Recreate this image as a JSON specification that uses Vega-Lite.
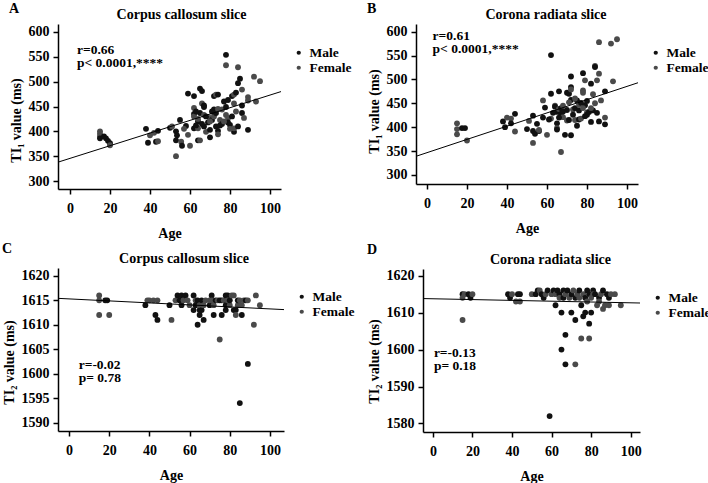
{
  "$schema": "https://vega.github.io/schema/vega-lite/v6.json",
  "padding": {"left": 2, "top": 2, "right": 0, "bottom": 0},
  "background": "white",
  "datasets": {
    "A": [
      {"age":15,"t":400,"sex":"Female"},{"age":15,"t":395,"sex":"Female"},{"age":15,"t":390,"sex":"Female"},{"age":15,"t":386,"sex":"Male"},
      {"age":17,"t":390,"sex":"Male"},{"age":18,"t":386,"sex":"Male"},{"age":19,"t":381,"sex":"Male"},{"age":20,"t":376,"sex":"Male"},{"age":20,"t":372,"sex":"Female"},
      {"age":38,"t":405,"sex":"Male"},{"age":39,"t":377,"sex":"Male"},{"age":40,"t":392,"sex":"Female"},{"age":42,"t":397,"sex":"Female"},{"age":44,"t":401,"sex":"Male"},{"age":43,"t":379,"sex":"Male"},{"age":44,"t":380,"sex":"Female"},
      {"age":50,"t":407,"sex":"Male"},{"age":51,"t":410,"sex":"Female"},{"age":53,"t":400,"sex":"Male"},{"age":53.5,"t":392,"sex":"Male"},{"age":53,"t":382,"sex":"Male"},{"age":53,"t":350,"sex":"Female"},
      {"age":55,"t":423,"sex":"Male"},{"age":55.6,"t":379,"sex":"Female"},{"age":56,"t":371,"sex":"Male"},{"age":59,"t":476,"sex":"Male"},{"age":58,"t":411,"sex":"Male"},{"age":59,"t":393,"sex":"Female"},{"age":60,"t":371,"sex":"Female"},
      {"age":62,"t":471,"sex":"Male"},{"age":62,"t":447,"sex":"Female"},{"age":62,"t":435,"sex":"Male"},{"age":62,"t":430,"sex":"Female"},{"age":62,"t":406,"sex":"Male"},{"age":64,"t":420,"sex":"Male"},{"age":64,"t":406,"sex":"Female"},{"age":64,"t":382,"sex":"Male"},{"age":65,"t":382,"sex":"Female"},
      {"age":65,"t":486,"sex":"Male"},{"age":66,"t":481,"sex":"Male"},{"age":66,"t":456,"sex":"Female"},{"age":67,"t":452,"sex":"Male"},{"age":67,"t":449,"sex":"Male"},{"age":65,"t":437,"sex":"Male"},{"age":67,"t":433,"sex":"Female"},{"age":67,"t":410,"sex":"Male"},
      {"age":68,"t":399,"sex":"Female"},{"age":69,"t":418,"sex":"Male"},{"age":70,"t":427,"sex":"Female"},{"age":70,"t":403,"sex":"Male"},{"age":70,"t":388,"sex":"Male"},{"age":71,"t":423,"sex":"Male"},{"age":72,"t":471,"sex":"Male"},{"age":73,"t":474,"sex":"Female"},
      {"age":74,"t":474,"sex":"Male"},{"age":72,"t":444,"sex":"Male"},{"age":72,"t":430,"sex":"Female"},{"age":73,"t":437,"sex":"Male"},{"age":73,"t":410,"sex":"Male"},{"age":74,"t":401,"sex":"Male"},{"age":74,"t":394,"sex":"Female"},{"age":75,"t":423,"sex":"Female"},
      {"age":76,"t":415,"sex":"Male"},{"age":76,"t":444,"sex":"Female"},{"age":77,"t":460,"sex":"Male"},{"age":78,"t":554,"sex":"Male"},{"age":78,"t":533,"sex":"Female"},{"age":78,"t":449,"sex":"Male"},{"age":78,"t":433,"sex":"Female"},{"age":79,"t":463,"sex":"Male"},
      {"age":79,"t":427,"sex":"Female"},{"age":79,"t":418,"sex":"Male"},{"age":80,"t":413,"sex":"Male"},{"age":81,"t":471,"sex":"Male"},{"age":82,"t":456,"sex":"Female"},{"age":82,"t":474,"sex":"Female"},{"age":83,"t":478,"sex":"Male"},{"age":82,"t":399,"sex":"Male"},
      {"age":82,"t":406,"sex":"Female"},{"age":84,"t":529,"sex":"Female"},{"age":84,"t":497,"sex":"Male"},{"age":85,"t":506,"sex":"Male"},{"age":86,"t":484,"sex":"Female"},{"age":86,"t":452,"sex":"Male"},{"age":86,"t":437,"sex":"Male"},{"age":87,"t":427,"sex":"Female"},
      {"age":89,"t":469,"sex":"Female"},{"age":89,"t":462,"sex":"Female"},{"age":89,"t":403,"sex":"Male"},{"age":92,"t":510,"sex":"Female"},{"age":95,"t":501,"sex":"Female"},{"age":93,"t":460,"sex":"Female"},
      {"age":63,"t":440,"sex":"Male"},{"age":64,"t":425,"sex":"Female"},{"age":66,"t":415,"sex":"Male"},{"age":68,"t":430,"sex":"Male"},{"age":70,"t":420,"sex":"Female"},{"age":71,"t":440,"sex":"Male"},{"age":74,"t":445,"sex":"Female"},{"age":75,"t":412,"sex":"Male"},
      {"age":77,"t":420,"sex":"Female"},{"age":80,"t":405,"sex":"Female"},{"age":81,"t":430,"sex":"Male"},{"age":83,"t":440,"sex":"Female"},{"age":84,"t":410,"sex":"Male"},{"age":63,"t":412,"sex":"Male"},{"age":57,"t":405,"sex":"Female"}
    ],
    "B": [
      {"age":15,"t":408,"sex":"Female"},{"age":15,"t":396,"sex":"Female"},{"age":15,"t":385,"sex":"Female"},{"age":17.5,"t":398,"sex":"Male"},{"age":19,"t":398,"sex":"Male"},{"age":20,"t":372,"sex":"Female"},
      {"age":38,"t":412,"sex":"Male"},{"age":39,"t":400,"sex":"Male"},{"age":40,"t":420,"sex":"Female"},{"age":42,"t":418,"sex":"Female"},{"age":42,"t":408,"sex":"Male"},{"age":44,"t":428,"sex":"Male"},{"age":44,"t":391,"sex":"Female"},
      {"age":50,"t":396,"sex":"Male"},{"age":51,"t":413,"sex":"Female"},{"age":53,"t":424,"sex":"Male"},{"age":53,"t":367,"sex":"Female"},{"age":53,"t":392,"sex":"Male"},{"age":54,"t":386,"sex":"Male"},{"age":55,"t":407,"sex":"Male"},{"age":56,"t":392,"sex":"Male"},
      {"age":56,"t":394,"sex":"Female"},{"age":58,"t":456,"sex":"Female"},{"age":58,"t":420,"sex":"Male"},{"age":60,"t":384,"sex":"Female"},{"age":59,"t":441,"sex":"Male"},{"age":62,"t":551,"sex":"Male"},{"age":62,"t":470,"sex":"Male"},{"age":62,"t":418,"sex":"Female"},
      {"age":61,"t":416,"sex":"Male"},{"age":64,"t":445,"sex":"Female"},{"age":64,"t":443,"sex":"Male"},{"age":65,"t":432,"sex":"Male"},{"age":65,"t":408,"sex":"Male"},{"age":65,"t":398,"sex":"Female"},{"age":65,"t":395,"sex":"Male"},{"age":66,"t":475,"sex":"Male"},
      {"age":66,"t":438,"sex":"Female"},{"age":67,"t":440,"sex":"Male"},{"age":67,"t":348,"sex":"Female"},{"age":67,"t":428,"sex":"Male"},{"age":68,"t":421,"sex":"Female"},{"age":68,"t":433,"sex":"Male"},{"age":69,"t":384,"sex":"Male"},{"age":70,"t":472,"sex":"Male"},
      {"age":70,"t":414,"sex":"Female"},{"age":71,"t":470,"sex":"Male"},{"age":71,"t":415,"sex":"Male"},{"age":72,"t":506,"sex":"Male"},{"age":72,"t":484,"sex":"Male"},{"age":72,"t":479,"sex":"Female"},{"age":72,"t":457,"sex":"Male"},{"age":72,"t":383,"sex":"Male"},
      {"age":73,"t":437,"sex":"Female"},{"age":73,"t":426,"sex":"Male"},{"age":74,"t":440,"sex":"Male"},{"age":74,"t":415,"sex":"Female"},{"age":75,"t":403,"sex":"Male"},{"age":75,"t":456,"sex":"Male"},{"age":76,"t":447,"sex":"Female"},{"age":76,"t":416,"sex":"Male"},
      {"age":77,"t":451,"sex":"Male"},{"age":77,"t":418,"sex":"Female"},{"age":78,"t":513,"sex":"Male"},{"age":78,"t":477,"sex":"Female"},{"age":78,"t":472,"sex":"Female"},{"age":79,"t":446,"sex":"Male"},{"age":79,"t":498,"sex":"Female"},{"age":79,"t":423,"sex":"Male"},
      {"age":80,"t":431,"sex":"Female"},{"age":80,"t":426,"sex":"Male"},{"age":81,"t":432,"sex":"Male"},{"age":82,"t":491,"sex":"Male"},{"age":82,"t":411,"sex":"Male"},{"age":83,"t":469,"sex":"Female"},{"age":83,"t":435,"sex":"Male"},{"age":84,"t":528,"sex":"Female"},
      {"age":84,"t":526,"sex":"Male"},{"age":85,"t":498,"sex":"Female"},{"age":85,"t":430,"sex":"Male"},{"age":86,"t":578,"sex":"Female"},{"age":86,"t":512,"sex":"Female"},{"age":86,"t":412,"sex":"Male"},{"age":87,"t":456,"sex":"Female"},{"age":89,"t":475,"sex":"Male"},
      {"age":89,"t":420,"sex":"Female"},{"age":89,"t":406,"sex":"Male"},{"age":92,"t":575,"sex":"Female"},{"age":93,"t":496,"sex":"Female"},{"age":95,"t":584,"sex":"Female"},
      {"age":63,"t":430,"sex":"Male"},{"age":66,"t":420,"sex":"Male"},{"age":68,"t":445,"sex":"Female"},{"age":70,"t":436,"sex":"Male"},{"age":71,"t":452,"sex":"Female"},{"age":74,"t":460,"sex":"Female"},{"age":76,"t":435,"sex":"Male"},{"age":78,"t":440,"sex":"Female"},
      {"age":80,"t":455,"sex":"Male"},{"age":82,"t":440,"sex":"Female"},{"age":84,"t":450,"sex":"Female"}
    ],
    "C": [
      {"age":15,"t":1616,"sex":"Female"},{"age":15,"t":1615,"sex":"Female"},{"age":15,"t":1612,"sex":"Female"},{"age":18,"t":1615,"sex":"Male"},{"age":19,"t":1615,"sex":"Male"},{"age":20,"t":1612,"sex":"Female"},
      {"age":38,"t":1614,"sex":"Male"},{"age":39,"t":1615,"sex":"Female"},{"age":40,"t":1615,"sex":"Female"},{"age":42,"t":1615,"sex":"Female"},{"age":43,"t":1612,"sex":"Male"},{"age":44,"t":1611,"sex":"Male"},{"age":44,"t":1615,"sex":"Female"},
      {"age":50,"t":1614,"sex":"Male"},{"age":51,"t":1611,"sex":"Female"},{"age":53,"t":1615,"sex":"Female"},{"age":54,"t":1616,"sex":"Male"},{"age":55,"t":1615,"sex":"Male"},{"age":56,"t":1616,"sex":"Male"},{"age":56,"t":1614,"sex":"Male"},{"age":57,"t":1615,"sex":"Female"},
      {"age":58,"t":1616,"sex":"Male"},{"age":59,"t":1615,"sex":"Female"},{"age":60,"t":1614,"sex":"Female"},{"age":62,"t":1616,"sex":"Male"},{"age":62,"t":1613,"sex":"Male"},{"age":63,"t":1615,"sex":"Female"},{"age":63,"t":1614,"sex":"Male"},{"age":64,"t":1610,"sex":"Male"},
      {"age":64,"t":1615,"sex":"Male"},{"age":65,"t":1613,"sex":"Male"},{"age":65,"t":1612,"sex":"Male"},{"age":65,"t":1614,"sex":"Female"},{"age":66,"t":1613,"sex":"Male"},{"age":66,"t":1615,"sex":"Male"},{"age":67,"t":1611,"sex":"Male"},{"age":67,"t":1614,"sex":"Female"},
      {"age":68,"t":1615,"sex":"Female"},{"age":70,"t":1614,"sex":"Male"},{"age":70,"t":1615,"sex":"Female"},{"age":71,"t":1616,"sex":"Male"},{"age":71,"t":1615,"sex":"Female"},{"age":72,"t":1612,"sex":"Male"},{"age":72,"t":1614,"sex":"Female"},{"age":73,"t":1615,"sex":"Male"},
      {"age":74,"t":1615,"sex":"Female"},{"age":75,"t":1615,"sex":"Male"},{"age":75,"t":1607,"sex":"Female"},{"age":76,"t":1612,"sex":"Male"},{"age":76,"t":1615,"sex":"Male"},{"age":77,"t":1615,"sex":"Female"},{"age":78,"t":1616,"sex":"Male"},{"age":78,"t":1614,"sex":"Male"},
      {"age":78,"t":1613,"sex":"Male"},{"age":79,"t":1616,"sex":"Male"},{"age":79,"t":1615,"sex":"Female"},{"age":80,"t":1614,"sex":"Female"},{"age":80,"t":1615,"sex":"Male"},{"age":81,"t":1616,"sex":"Female"},{"age":82,"t":1613,"sex":"Male"},{"age":82,"t":1616,"sex":"Female"},
      {"age":83,"t":1613,"sex":"Male"},{"age":83,"t":1612,"sex":"Female"},{"age":84,"t":1614,"sex":"Female"},{"age":84,"t":1615,"sex":"Male"},{"age":85,"t":1615,"sex":"Female"},{"age":85,"t":1594,"sex":"Male"},{"age":86,"t":1612,"sex":"Male"},{"age":86,"t":1614,"sex":"Female"},
      {"age":87,"t":1615,"sex":"Female"},{"age":88,"t":1615,"sex":"Male"},{"age":89,"t":1602,"sex":"Male"},{"age":89,"t":1615,"sex":"Female"},{"age":92,"t":1610,"sex":"Female"},{"age":93,"t":1616,"sex":"Female"},{"age":95,"t":1614,"sex":"Female"}
    ],
    "D": [
      {"age":15,"t":1615,"sex":"Male"},{"age":15,"t":1614,"sex":"Female"},{"age":15,"t":1608,"sex":"Female"},{"age":16,"t":1615,"sex":"Female"},{"age":18,"t":1615,"sex":"Male"},{"age":19,"t":1614,"sex":"Male"},{"age":20,"t":1615,"sex":"Female"},
      {"age":38,"t":1615,"sex":"Male"},{"age":39,"t":1614,"sex":"Male"},{"age":40,"t":1615,"sex":"Female"},{"age":42,"t":1613,"sex":"Female"},{"age":43,"t":1615,"sex":"Male"},{"age":44,"t":1613,"sex":"Female"},{"age":44,"t":1615,"sex":"Male"},
      {"age":50,"t":1615,"sex":"Female"},{"age":52,"t":1615,"sex":"Male"},{"age":53,"t":1616,"sex":"Male"},{"age":54,"t":1616,"sex":"Female"},{"age":55,"t":1615,"sex":"Male"},{"age":56,"t":1614,"sex":"Male"},{"age":57,"t":1615,"sex":"Female"},{"age":58,"t":1616,"sex":"Male"},
      {"age":59,"t":1582,"sex":"Male"},{"age":60,"t":1615,"sex":"Female"},{"age":61,"t":1616,"sex":"Male"},{"age":62,"t":1612,"sex":"Male"},{"age":62,"t":1615,"sex":"Female"},{"age":63,"t":1616,"sex":"Male"},{"age":64,"t":1615,"sex":"Male"},{"age":64,"t":1614,"sex":"Female"},
      {"age":65,"t":1610,"sex":"Male"},{"age":65,"t":1600,"sex":"Male"},{"age":66,"t":1616,"sex":"Male"},{"age":66,"t":1614,"sex":"Male"},{"age":67,"t":1604,"sex":"Male"},{"age":67,"t":1596,"sex":"Male"},{"age":67,"t":1615,"sex":"Female"},{"age":68,"t":1616,"sex":"Male"},
      {"age":69,"t":1614,"sex":"Female"},{"age":70,"t":1610,"sex":"Male"},{"age":70,"t":1615,"sex":"Male"},{"age":71,"t":1616,"sex":"Female"},{"age":72,"t":1608,"sex":"Male"},{"age":72,"t":1596,"sex":"Female"},{"age":72,"t":1614,"sex":"Male"},{"age":73,"t":1615,"sex":"Female"},
      {"age":74,"t":1616,"sex":"Male"},{"age":74,"t":1614,"sex":"Female"},{"age":75,"t":1612,"sex":"Male"},{"age":75,"t":1603,"sex":"Female"},{"age":76,"t":1609,"sex":"Male"},{"age":76,"t":1615,"sex":"Female"},{"age":77,"t":1614,"sex":"Male"},{"age":77,"t":1610,"sex":"Male"},
      {"age":78,"t":1616,"sex":"Male"},{"age":78,"t":1613,"sex":"Female"},{"age":79,"t":1607,"sex":"Male"},{"age":79,"t":1603,"sex":"Female"},{"age":79,"t":1615,"sex":"Male"},{"age":80,"t":1610,"sex":"Male"},{"age":80,"t":1614,"sex":"Female"},{"age":81,"t":1616,"sex":"Male"},
      {"age":81,"t":1615,"sex":"Female"},{"age":82,"t":1615,"sex":"Male"},{"age":83,"t":1612,"sex":"Female"},{"age":84,"t":1614,"sex":"Male"},{"age":84,"t":1613,"sex":"Female"},{"age":85,"t":1615,"sex":"Female"},{"age":86,"t":1616,"sex":"Male"},{"age":86,"t":1611,"sex":"Female"},
      {"age":87,"t":1612,"sex":"Female"},{"age":88,"t":1615,"sex":"Male"},{"age":89,"t":1614,"sex":"Male"},{"age":89,"t":1612,"sex":"Female"},{"age":90,"t":1615,"sex":"Female"},{"age":92,"t":1615,"sex":"Female"},{"age":95,"t":1612,"sex":"Female"}
    ],
    "lines": [
      {"panel":"A","age":-6,"t":338},{"panel":"A","age":105.5,"t":480},
      {"panel":"B","age":-5.5,"t":339},{"panel":"B","age":105.5,"t":493},
      {"panel":"C","age":-5.5,"t":1615.4},{"panel":"C","age":107,"t":1613.1},
      {"panel":"D","age":-5,"t":1613.8},{"panel":"D","age":104.7,"t":1612.6}
    ],
    "notes": [
      {"panel":"A","age":3.5,"t":556,"label":"r=0.66"},{"panel":"A","age":3.5,"t":530,"label":"p< 0.0001,****"},
      {"panel":"B","age":2.8,"t":583,"label":"r=0.61"},{"panel":"B","age":2.8,"t":555,"label":"p< 0.0001,****"},
      {"panel":"C","age":4.8,"t":1600.9,"label":"r=-0.02"},{"panel":"C","age":4.8,"t":1598.4,"label":"p= 0.78"},
      {"panel":"D","age":0.5,"t":1598,"label":"r=-0.13"},{"panel":"D","age":0.5,"t":1594.4,"label":"p= 0.18"}
    ]
  },
  "resolve": {"scale": {"color": "independent"}, "legend": {"color": "independent"}},
  "columns": 2,
  "align": "none",
  "spacing": {"row": 2, "column": 12},
  "concat": [
    {
      "title": {"text": "A", "offset": -8},
      "resolve": {"scale": {"color": "independent"}, "legend": {"color": "independent"}},
      "hconcat": [
        {
          "title": {"text": "Corpus callosum slice", "dx": 12},
          "width": 223, "height": 165,
          "encoding": {
            "x": {"field": "age", "type": "quantitative", "scale": {"domain": [-6, 105.5], "nice": false, "zero": false}, "axis": {"values": [0, 20, 40, 60, 80, 100], "title": "Age"}},
            "y": {"field": "t", "type": "quantitative", "scale": {"domain": [284, 616], "nice": false, "zero": false}, "axis": {"values": [300, 350, 400, 450, 500, 550, 600], "title": "TI₁ value (ms)", "titleY": 96}}
          },
          "layer": [
            {"data": {"name": "A"}, "mark": {"type": "circle", "size": 34, "opacity": 1},
             "encoding": {
               "color": {"field": "sex", "type": "nominal", "scale": {"domain": ["Male", "Female"], "range": ["#111111", "#4a4a4a"]}, "legend": {"title": " "}}
             }},
            {"data": {"name": "lines"}, "transform": [{"filter": "datum.panel === 'A'"}], "mark": {"type": "line", "color": "#000000", "strokeWidth": 1}, "encoding": {}},
            {"data": {"name": "notes"}, "transform": [{"filter": "datum.panel === 'A'"}], "mark": {"type": "text", "align": "left", "baseline": "alphabetic", "fontSize": 13.5, "fontWeight": "bold", "font": "Liberation Serif", "color": "#000000"},
             "encoding": {"text": {"field": "label"}}}
          ]
        }
      ]
    },
    {
      "title": {"text": "B", "offset": -8},
      "resolve": {"scale": {"color": "independent"}, "legend": {"color": "independent"}},
      "hconcat": [
        {
          "title": {"text": "Corona radiata slice", "dx": 19},
          "width": 222, "height": 160,
          "encoding": {
            "x": {"field": "age", "type": "quantitative", "scale": {"domain": [-5.5, 105.5], "nice": false, "zero": false}, "axis": {"values": [0, 20, 40, 60, 80, 100], "title": "Age"}},
            "y": {"field": "t", "type": "quantitative", "scale": {"domain": [281, 616], "nice": false, "zero": false}, "axis": {"values": [300, 350, 400, 450, 500, 550, 600], "title": "TI₁ value (ms)", "titleY": 87}}
          },
          "layer": [
            {"data": {"name": "B"}, "mark": {"type": "circle", "size": 34, "opacity": 1},
             "encoding": {
               "color": {"field": "sex", "type": "nominal", "scale": {"domain": ["Male", "Female"], "range": ["#111111", "#4a4a4a"]}, "legend": {"title": " "}}
             }},
            {"data": {"name": "lines"}, "transform": [{"filter": "datum.panel === 'B'"}], "mark": {"type": "line", "color": "#000000", "strokeWidth": 1}, "encoding": {}},
            {"data": {"name": "notes"}, "transform": [{"filter": "datum.panel === 'B'"}], "mark": {"type": "text", "align": "left", "baseline": "alphabetic", "fontSize": 13.5, "fontWeight": "bold", "font": "Liberation Serif", "color": "#000000"},
             "encoding": {"text": {"field": "label"}}}
          ]
        }
      ]
    },
    {
      "title": {"text": "C", "offset": -4},
      "resolve": {"scale": {"color": "independent"}, "legend": {"color": "independent"}},
      "hconcat": [
        {
          "title": {"text": "Corpus callosum slice", "dx": 13},
          "width": 226, "height": 163,
          "encoding": {
            "x": {"field": "age", "type": "quantitative", "scale": {"domain": [-5.5, 107], "nice": false, "zero": false}, "axis": {"values": [0, 20, 40, 60, 80, 100], "title": "Age"}},
            "y": {"field": "t", "type": "quantitative", "scale": {"domain": [1588.3, 1621.6], "nice": false, "zero": false}, "axis": {"values": [1590, 1595, 1600, 1605, 1610, 1615, 1620], "format": "d", "title": "TI₂ value (ms)", "titleY": 94}}
          },
          "layer": [
            {"data": {"name": "C"}, "mark": {"type": "circle", "size": 34, "opacity": 1},
             "encoding": {
               "color": {"field": "sex", "type": "nominal", "scale": {"domain": ["Male", "Female"], "range": ["#111111", "#4a4a4a"]}, "legend": {"title": " "}}
             }},
            {"data": {"name": "lines"}, "transform": [{"filter": "datum.panel === 'C'"}], "mark": {"type": "line", "color": "#000000", "strokeWidth": 1}, "encoding": {}},
            {"data": {"name": "notes"}, "transform": [{"filter": "datum.panel === 'C'"}], "mark": {"type": "text", "align": "left", "baseline": "alphabetic", "fontSize": 13.5, "fontWeight": "bold", "font": "Liberation Serif", "color": "#000000"},
             "encoding": {"text": {"field": "label"}}}
          ]
        }
      ]
    },
    {
      "title": {"text": "D", "offset": -4},
      "resolve": {"scale": {"color": "independent"}, "legend": {"color": "independent"}},
      "hconcat": [
        {
          "title": {"text": "Corona radiata slice", "dx": 19},
          "width": 217, "height": 163,
          "encoding": {
            "x": {"field": "age", "type": "quantitative", "scale": {"domain": [-5, 104.7], "nice": false, "zero": false}, "axis": {"values": [0, 20, 40, 60, 80, 100], "title": "Age"}},
            "y": {"field": "t", "type": "quantitative", "scale": {"domain": [1577.7, 1621.8], "nice": false, "zero": false}, "axis": {"values": [1580, 1590, 1600, 1610, 1620], "format": "d", "title": "TI₂ value (ms)", "titleY": 92}}
          },
          "layer": [
            {"data": {"name": "D"}, "mark": {"type": "circle", "size": 34, "opacity": 1},
             "encoding": {
               "color": {"field": "sex", "type": "nominal", "scale": {"domain": ["Male", "Female"], "range": ["#111111", "#4a4a4a"]}, "legend": {"title": " "}}
             }},
            {"data": {"name": "lines"}, "transform": [{"filter": "datum.panel === 'D'"}], "mark": {"type": "line", "color": "#000000", "strokeWidth": 1}, "encoding": {}},
            {"data": {"name": "notes"}, "transform": [{"filter": "datum.panel === 'D'"}], "mark": {"type": "text", "align": "left", "baseline": "alphabetic", "fontSize": 13.5, "fontWeight": "bold", "font": "Liberation Serif", "color": "#000000"},
             "encoding": {"text": {"field": "label"}}}
          ]
        }
      ]
    }
  ],
  "config": {
    "font": "Liberation Serif",
    "view": {"stroke": null},
    "axis": {
      "grid": false, "labelOverlap": false,
      "labelFont": "Liberation Serif", "labelFontWeight": "bold", "labelFontSize": 14, "labelColor": "#000000",
      "titleFont": "Liberation Serif", "titleFontWeight": "bold", "titleFontSize": 14, "titleColor": "#000000",
      "domainColor": "#000000", "domainWidth": 1.5, "tickColor": "#000000", "tickWidth": 1.5, "tickSize": 5
    },
    "axisX": {"labelPadding": 7, "titlePadding": 11},
    "axisY": {"labelPadding": 4, "titlePadding": 5},
    "legend": {
      "orient": "right", "offset": 11, "padding": 0,
      "titleFontSize": 14, "titlePadding": 8, "titleFont": "Liberation Serif",
      "labelFont": "Liberation Serif", "labelFontWeight": "bold", "labelFontSize": 13.5, "labelColor": "#000000",
      "symbolType": "circle", "symbolSize": 18, "labelOffset": 4, "rowPadding": 0
    },
    "title": {
      "font": "Liberation Serif", "fontWeight": "bold", "fontSize": 14, "color": "#000000", "offset": 2
    }
  }
}
